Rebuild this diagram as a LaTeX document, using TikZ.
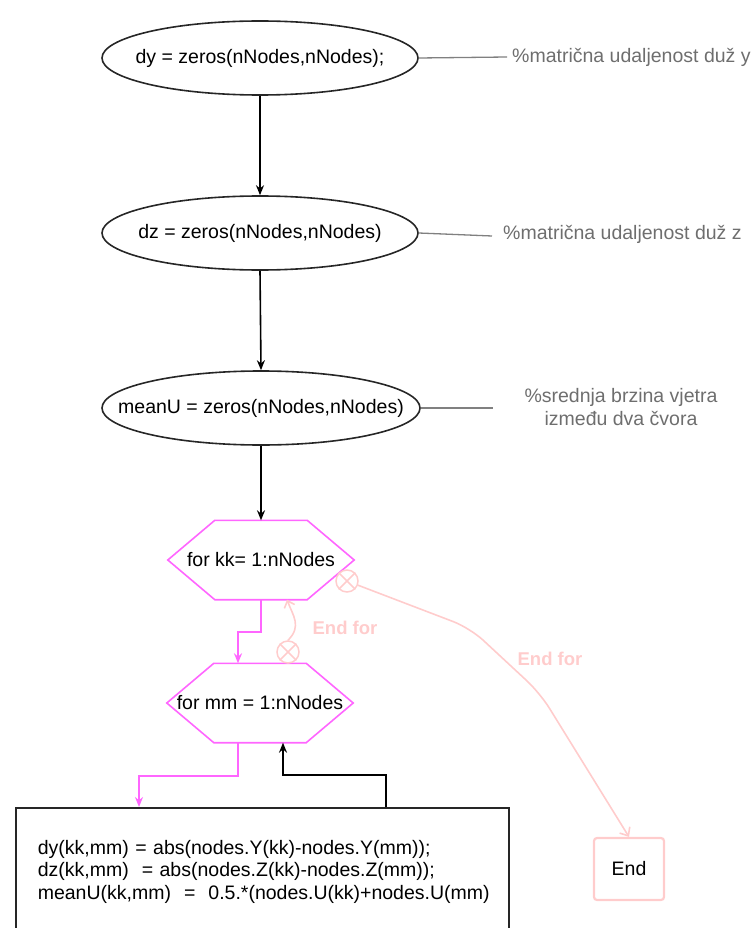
\documentclass[tikz,border=0pt]{standalone}
\usepackage{fontspec}
\setmainfont{Liberation Sans}
\usetikzlibrary{arrows.meta,calc,shapes.geometric}
\definecolor{forpink}{HTML}{FF66FF}
\definecolor{endpink}{HTML}{FFCCCC}
\definecolor{notegray}{HTML}{6E6E6E}
\newcommand{\proctext}[1]{\makebox[0pt]{#1}}
\newcommand{\hexframe}[1]{%
  \draw[forline] ($(#1.north west)+(47,0)$) -- ($(#1.north east)+(-47,0)$) -- (#1.east)
    -- ($(#1.south east)+(-47,0)$) -- ($(#1.south west)+(47,0)$) -- (#1.west) -- cycle;}

\begin{document}
\begin{tikzpicture}[x=1pt,y=-1pt,>=Stealth,
  every node/.style={font=\fontsize{19.5}{22.5}\selectfont},
  proc/.style={ellipse,draw=black!85,line width=1.6pt,minimum width=316pt,minimum height=74pt},
  forbox/.style={minimum width=186pt,minimum height=79pt},
  flow/.style={-{Stealth[length=10pt,width=8pt]},line width=1.6pt},
  forline/.style={draw=forpink,line width=1.6pt},
  endline/.style={draw=endpink,line width=1.6pt},
  endmark/.style={circle,draw=endpink,line width=1.5pt,minimum size=22pt,inner sep=0pt},
  endlabel/.style={text=endpink,font=\fontsize{18.5}{22}\selectfont\bfseries},
  note/.style={text=notegray,align=center,inner sep=0pt},
  noteline/.style={draw=gray,line width=1.3pt}]
\useasboundingbox (0,0) rectangle (750,928);

\node[proc] (dy) at (260,58) {\proctext{dy = zeros(nNodes,nNodes);}};
\node[proc] (dz) at (260,233) {\proctext{dz = zeros(nNodes,nNodes)}};
\node[proc,minimum width=318pt] (mu) at (261,408) {\proctext{meanU = zeros(nNodes,nNodes)}};
\node[forbox] (fk) at (261,560) {for kk= 1:nNodes};
\node[forbox] (fm) at (260,703) {for mm = 1:nNodes};
\hexframe{fk}
\hexframe{fm}
\node[draw=black!85,line width=1.6pt,anchor=north west,minimum width=493pt,minimum height=128pt,
  inner xsep=22pt,text width=449pt,align=left] (body) at (15,807)
  {\mbox{dy(kk,mm) = abs(nodes.Y(kk)-nodes.Y(mm));}\\
   \mbox{dz(kk,mm)~~= abs(nodes.Z(kk)-nodes.Z(mm));}\\
   \mbox{meanU(kk,mm)~~=~~0.5.*(nodes.U(kk)+nodes.U(mm)}};
\node[draw=endpink,line width=2.2pt,rounded corners=3pt,minimum width=70pt,minimum height=62pt] (end) at (629,869) {End};

\node[note,anchor=west] (ny) at (512,57) {\%matrična udaljenost duž y};
\node[note,anchor=west] (nz) at (503,234) {\%matrična udaljenost duž z};
\node[note] (nu) at (621,407) {\%srednja brzina vjetra\\između dva čvora};
\coordinate (ty) at (507,57);
\coordinate (tz) at (492,236);
\coordinate (tu) at (493,408);
\draw[noteline] (dy.east) -- (ty);
\draw[noteline] (dz.east) -- (tz);
\draw[noteline] (mu.east) -- (tu);

\draw[flow] (dy.south) -- (dz.north);
\draw[flow] (dz.south) -- (mu.north);
\draw[flow] (mu.south) -- (fk.north);
\draw[flow,forline] (fk.south) -- ++(0,32) -| ($(fm.north)+(-22,0)$);
\draw[flow,forline] ($(fm.south)+(-22,0)$) -- ++(0,33) -| ($(body.north west)+(124,0)$);
\draw[flow] ($(body.north west)+(371,0)$) -- ++(0,-32) -| ($(fm.south)+(23,0)$);

\node[endmark] (xm) at (288,652) {};
\node[endmark] (xk) at (347,581) {};
\draw[endline] (xm.45) -- (xm.225) (xm.135) -- (xm.315);
\draw[endline] (xk.45) -- (xk.225) (xk.135) -- (xk.315);
\coordinate (b1) at (470,628);
\coordinate (b2) at (540,693);
\draw[endline,-{Straight Barb[length=6pt,width=11pt]}] (xm.north) .. controls +(14,-14) and +(6,16) .. ($(fk.south)+(26,0)$);
\draw[endline,rounded corners=18pt,-{Straight Barb[length=7pt,width=12pt]}] (xk) -- (b1) -- (b2) -- (end.north);
\node[endlabel] (lm) at (345,628) {End for};
\node[endlabel] (lk) at (550,659) {End for};
\end{tikzpicture}
\end{document}
